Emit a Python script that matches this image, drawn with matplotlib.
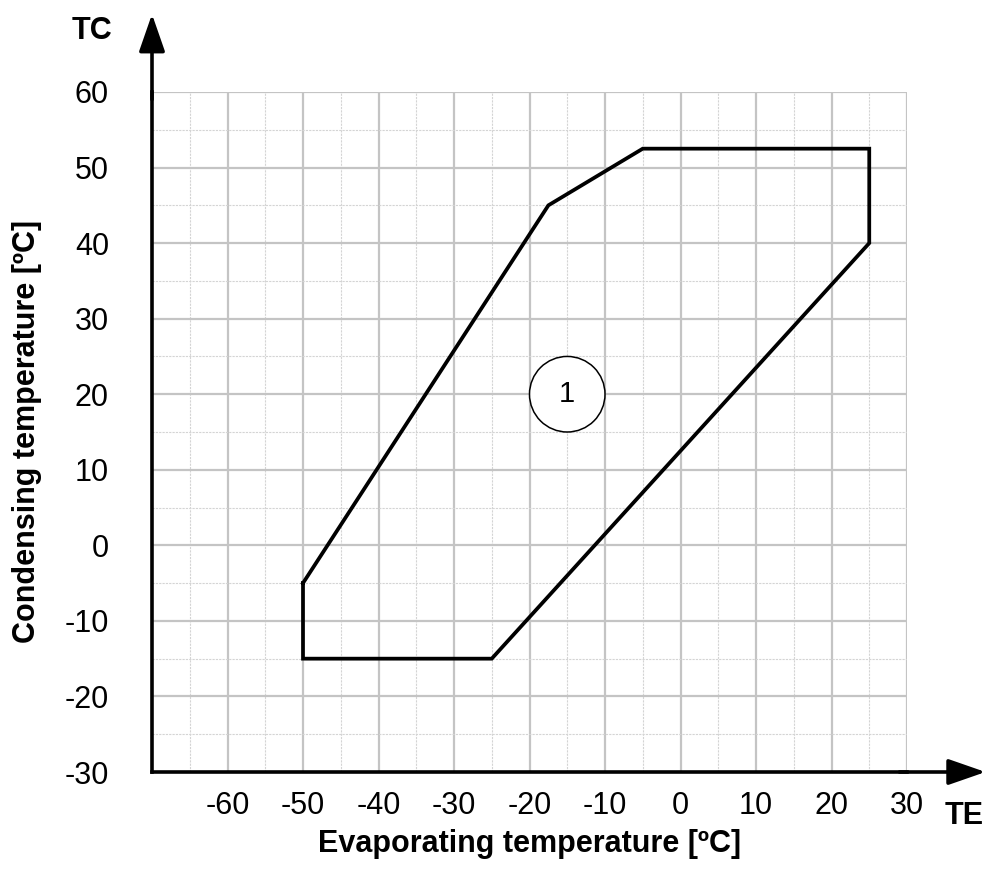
import matplotlib.pyplot as plt
import numpy as np

plt.rcParams['font.family'] = ['Liberation Sans', 'DejaVu Sans']
plt.rcParams['axes.unicode_minus'] = False

# operating envelope (TE, TC)
te_env = [-50, -50, -25, 25, 25, -5, -17.5, -50]
tc_env = [-5, -15, -15, 40, 52.5, 52.5, 45, -5]

zone_label = "1"
zone_te, zone_tc = -15, 20

x_ticks = [-60, -50, -40, -30, -20, -10, 0, 10, 20, 30]
y_ticks = [-30, -20, -10, 0, 10, 20, 30, 40, 50, 60]

W, H = 986, 873
fig = plt.figure(figsize=(W / 100, H / 100), dpi=100)
ax = fig.add_axes([152 / W, 1 - 772 / H, 755 / W, 680 / H])
ax.set_xlim(-70, 30)
ax.set_ylim(-30, 60)

# grid: major every 10, minor every 5
for v in np.arange(-65, 31, 5):
    major = v % 10 == 0
    ax.axvline(v, color='#c4c4c4' if major else '#d4d4d4',
               lw=1.6 if major else 0.8, ls='-' if major else (0, (2, 1)), zorder=0)
for v in np.arange(-25, 61, 5):
    major = v % 10 == 0
    ax.axhline(v, color='#c4c4c4' if major else '#d4d4d4',
               lw=1.6 if major else 0.8, ls='-' if major else (0, (2, 1)), zorder=0)

ax.plot(te_env, tc_env, color='black', lw=2.7, solid_joinstyle='miter', zorder=3)

circ = plt.Circle((zone_te, zone_tc), 5.0, facecolor='white', edgecolor='black', lw=1.1, zorder=4)
ax.add_patch(circ)
ax.text(zone_te, zone_tc, zone_label, ha='center', va='center', fontsize=21, zorder=5)

for s in ['top', 'right']:
    ax.spines[s].set_visible(False)
for s in ['left', 'bottom']:
    ax.spines[s].set_linewidth(2.6)
    ax.spines[s].set_zorder(6)

ax.set_xticks(x_ticks)
ax.set_yticks(y_ticks)
ax.tick_params(length=0, labelsize=22)
ax.tick_params(axis='x', pad=14)
ax.tick_params(axis='y', pad=31)

# axis labels
fig.text(529.5 / W, 1 - 844 / H, "Evaporating temperature [ºC]", fontsize=22,
         fontweight='bold', ha='center', va='center')
fig.text(27 / W, 1 - 431 / H, "Condensing temperature [ºC]", fontsize=22,
         fontweight='bold', ha='center', va='center', rotation=90)

# axis arrows
arrow = dict(arrowstyle='-|>,head_length=2.3,head_width=0.8', color='black', lw=2.6,
             shrinkA=0, shrinkB=0)
ax.annotate('', xy=(40.4, -30), xytext=(29, -30), annotation_clip=False, arrowprops=arrow)
ax.annotate('', xy=(-70, 70.3), xytext=(-70, 59), annotation_clip=False, arrowprops=arrow)

fig.text(92 / W, 1 - 31 / H, "TC", fontsize=22, fontweight='bold', ha='center', va='center')
fig.text(984 / W, 1 - 816 / H, "TE", fontsize=22, fontweight='bold', ha='right', va='center')

fig.savefig("out.png", dpi=100)
